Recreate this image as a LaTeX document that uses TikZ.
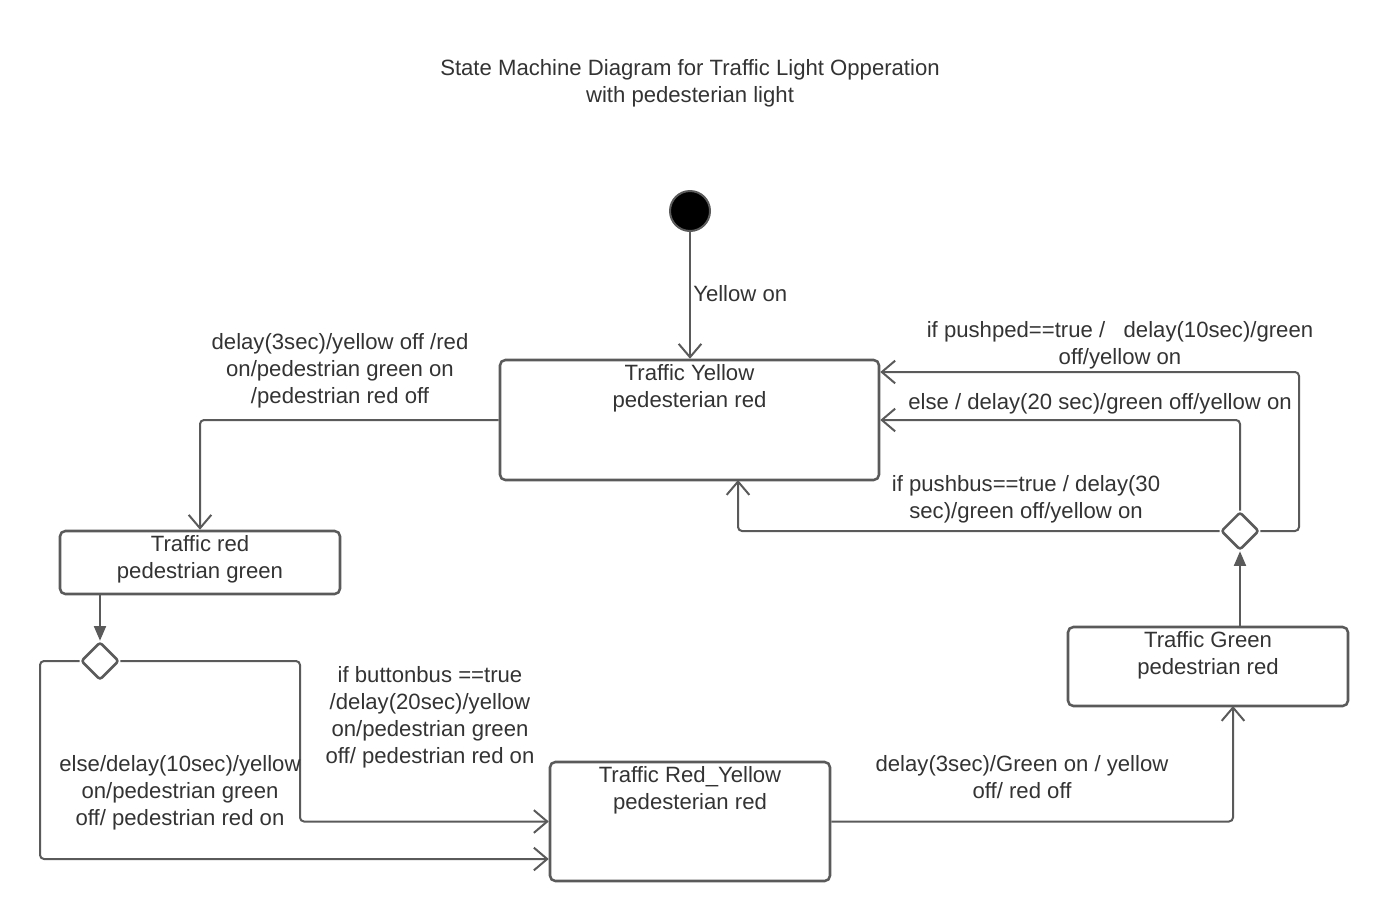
\documentclass[tikz,border=0pt]{standalone}
\usepackage{fontspec}
\setmainfont{Liberation Sans}
\usetikzlibrary{arrows.meta, positioning, shapes.geometric, calc}

\definecolor{linegray}{HTML}{5A5A5A}
\definecolor{textgray}{HTML}{333333}

\tikzset{
  statebox/.style={draw=linegray, line width=1.9pt, rounded corners=4pt,
                   inner sep=0pt},
  choice/.style={diamond, draw=linegray, line width=1.9pt, rounded corners=2pt,
                 minimum size=28.5pt, inner sep=0pt},
  flow/.style={draw=linegray, line width=1.5pt, rounded corners=3pt,
               -{Straight Barb[length=10pt, width=17pt]}},
  into/.style={draw=linegray, line width=1.5pt,
               -{Triangle[length=11pt, width=9pt]}},
  lbl/.style={text=textgray, font=\fontsize{16.6}{20.2}\selectfont,
              align=center, inner sep=0pt},
}

\begin{document}
\begin{tikzpicture}[x=0.75pt, y=-0.75pt]
  \useasboundingbox (0,0) rectangle (1389,922);

  % title
  \node[lbl] (title) at (690,83)
    {State Machine Diagram for Traffic Light Opperation\\with pedesterian light};

  % states
  \node[circle, fill=black, draw=linegray, line width=1.5pt,
        minimum size=30pt, inner sep=0pt] (init) at (690,211) {};
  \node[statebox, minimum width=284.25pt, minimum height=90pt]
    (yellow) at (689.5,420) {};
  \node[statebox, minimum width=210pt, minimum height=47.25pt]
    (red) at (200,562.5) {};
  \node[statebox, minimum width=210pt, minimum height=89.25pt]
    (redyellow) at (690,821.5) {};
  \node[statebox, minimum width=210pt, minimum height=59.25pt]
    (green) at (1208,666.5) {};
  \node[choice] (c1) at (100,661) {};
  \node[choice] (c2) at (1240,531) {};

  \node[lbl, below=3.8pt of yellow.north] (yellowtxt)
    {Traffic Yellow\\pedesterian red};
  \node[lbl, below=3.8pt of red.north] (redtxt)
    {Traffic red\\pedestrian green};
  \node[lbl, below=3.8pt of redyellow.north] (redyellowtxt)
    {Traffic Red\_Yellow\\pedesterian red};
  \node[lbl, below=3.8pt of green.north] (greentxt)
    {Traffic Green\\pedestrian red};

  % bends
  \coordinate (b1) at (40,859);
  \coordinate (b2) at (300,821.5);
  \coordinate (b3) at (1233,706);
  \coordinate (b4) at (1299,372);
  \coordinate (b5) at (738,480);

  % transitions
  \draw[flow] (init) -- (init |- yellow.north);
  \draw[flow] (yellow.west) -| (red.north);
  \draw[into] (red.south -| c1.north) -- (c1.north);
  \draw[flow] (c1.west) -| (b1) -- (b1 -| redyellow.west);
  \draw[flow] (c1.east) -| (b2) -- (redyellow.west);
  \draw[flow] (redyellow.east) -| (b3);
  \draw[into] (green.north -| c2.south) -- (c2.south);
  \draw[flow] (c2.east) -| (b4) -- (b4 -| yellow.east);
  \draw[flow] (c2.north) |- (yellow.east);
  \draw[flow] (c2.west) -| (b5);

  % guards
  \node[lbl, anchor=west] (yellowon) at (693,294) {Yellow on};
  \node[lbl] (toRed) at (340,371)
    {delay(3sec)/yellow off /red\\on/pedestrian green on\\/pedestrian red off};
  \node[lbl] (pushped) at (1120,345)
    {if pushped==true /\ \ \ delay(10sec)/green\\off/yellow on};
  \node[lbl] (else20) at (1100,404) {else / delay(20 sec)/green off/yellow on};
  \node[lbl] (pushbus) at (1026,499)
    {if pushbus==true / delay(30\\sec)/green off/yellow on};
  \node[lbl] (buttonbus) at (430,717)
    {if buttonbus ==true\\/delay(20sec)/yellow\\on/pedestrian green\\off/ pedestrian red on};
  \node[lbl] (else10) at (180,792.5)
    {else/delay(10sec)/yellow\\on/pedestrian green\\off/ pedestrian red on};
  \node[lbl] (toGreen) at (1022,777)
    {delay(3sec)/Green on / yellow\\off/ red off};
\end{tikzpicture}
\end{document}
